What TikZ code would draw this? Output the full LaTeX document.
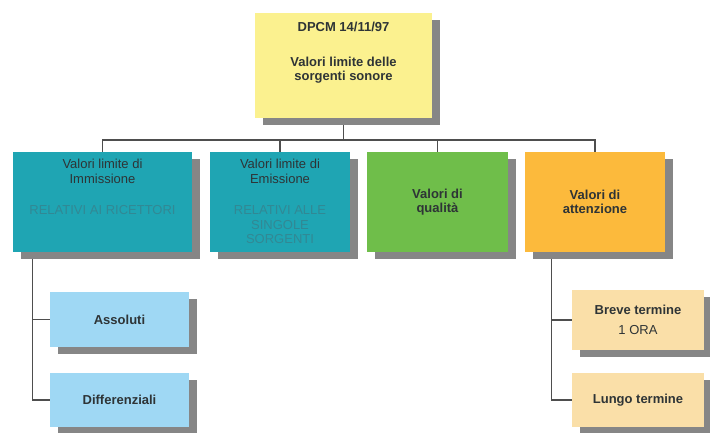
\documentclass[tikz,border=0pt]{standalone}
\usepackage{fontspec}
\setmainfont{Liberation Sans}
\usepackage{xcolor}
\definecolor{chart-yellow}{HTML}{FBF18F}
\definecolor{chart-teal}{HTML}{1FA5B3}
\definecolor{chart-green}{HTML}{6FBE4A}
\definecolor{chart-orange}{HTML}{FCBA3C}
\definecolor{chart-blue}{HTML}{9FD8F4}
\definecolor{chart-peach}{HTML}{FADFA8}
\definecolor{chart-shadow}{HTML}{868686}
\definecolor{chart-text}{HTML}{2E3436}
\definecolor{chart-tealtext}{HTML}{328894}
\definecolor{chart-line}{HTML}{4E4E4E}
\usetikzlibrary{positioning,shadows,backgrounds}

\begin{document}
\begin{tikzpicture}[x=1pt, y=-1pt,
    box/.style 2 args={draw=none, inner sep=0pt, minimum width=#1pt, minimum height=#2pt,
        drop shadow={fill=chart-shadow, opacity=1, shadow xshift=8pt, shadow yshift=-7pt}},
    boxtext/.style={font=\fontsize{13}{14}\selectfont, text=chart-text, align=center, inner sep=0pt},
    boxbold/.style={boxtext, font=\fontsize{13}{14}\selectfont\bfseries},
    link/.style={draw=chart-line, line width=1.3pt}]

    \useasboundingbox (0, 0) rectangle (710, 432);

    % Head
    \node[box={177}{105}, fill=chart-yellow] (dpcm) at (343.5, 65.5) {};
    \node[boxbold, below=9pt of dpcm.north] (dpcmtext) {DPCM 14/11/97\\[21pt]Valori limite delle\\sorgenti sonore};

    % Second row
    \node[box={179}{100}, fill=chart-teal] (immissione) at (102.5, 202) {};
    \node[boxtext, below=7.5pt of immissione.north] (immtext) {Valori limite di\\[1pt]Immissione\\[17pt]\textcolor{chart-tealtext}{RELATIVI AI RICETTORI}};

    \node[box={140}{100}, fill=chart-teal] (emissione) at (280, 202) {};
    \node[boxtext, below=7.5pt of emissione.north] (emitext) {Valori limite di\\[1pt]Emissione\\[17pt]\textcolor{chart-tealtext}{RELATIVI ALLE}\\[1pt]\textcolor{chart-tealtext}{SINGOLE}\\\textcolor{chart-tealtext}{SORGENTI}};

    \node[box={141}{100}, fill=chart-green, boxbold] (qualita) at (437.5, 202) {Valori di\\qualità};
    \node[box={140}{100}, fill=chart-orange, boxbold] (attenzione) at (595, 202) {Valori di\\attenzione};

    % Third row
    \node[box={139}{55}, fill=chart-blue, boxbold] (assoluti) at (119.5, 319.5) {Assoluti};
    \node[box={139}{54}, fill=chart-blue, boxbold] (differenziali) at (119.5, 400) {Differenziali};
    \node[box={132}{60}, fill=chart-peach, boxbold] (breve) at (638, 320) {Breve termine\\[6pt]{\mdseries 1 ORA}};
    \node[box={132}{54}, fill=chart-peach, boxbold] (lungo) at (638, 400) {Lungo termine};

    % Connectors
    \begin{scope}[on background layer]
        \fill[white] (0, 0) rectangle (710, 432);
        \coordinate (bus) at (343.5, 140);
        \draw[link] (dpcm.south) -- (bus);
        \draw[link] (immissione.north) |- (bus) -| (attenzione.north);
        \draw[link] (emissione.north) -- (emissione.north |- bus);
        \draw[link] (qualita.north) -- (qualita.north |- bus);
        \coordinate (leftspine) at ([xshift=20pt]immissione.south west);
        \draw[link] (leftspine) |- (assoluti.west);
        \draw[link] (leftspine) |- (differenziali.west);
        \coordinate (rightspine) at ([xshift=27pt]attenzione.south west);
        \draw[link] (rightspine) |- (breve.west);
        \draw[link] (rightspine) |- (lungo.west);
    \end{scope}

\end{tikzpicture}
\end{document}
